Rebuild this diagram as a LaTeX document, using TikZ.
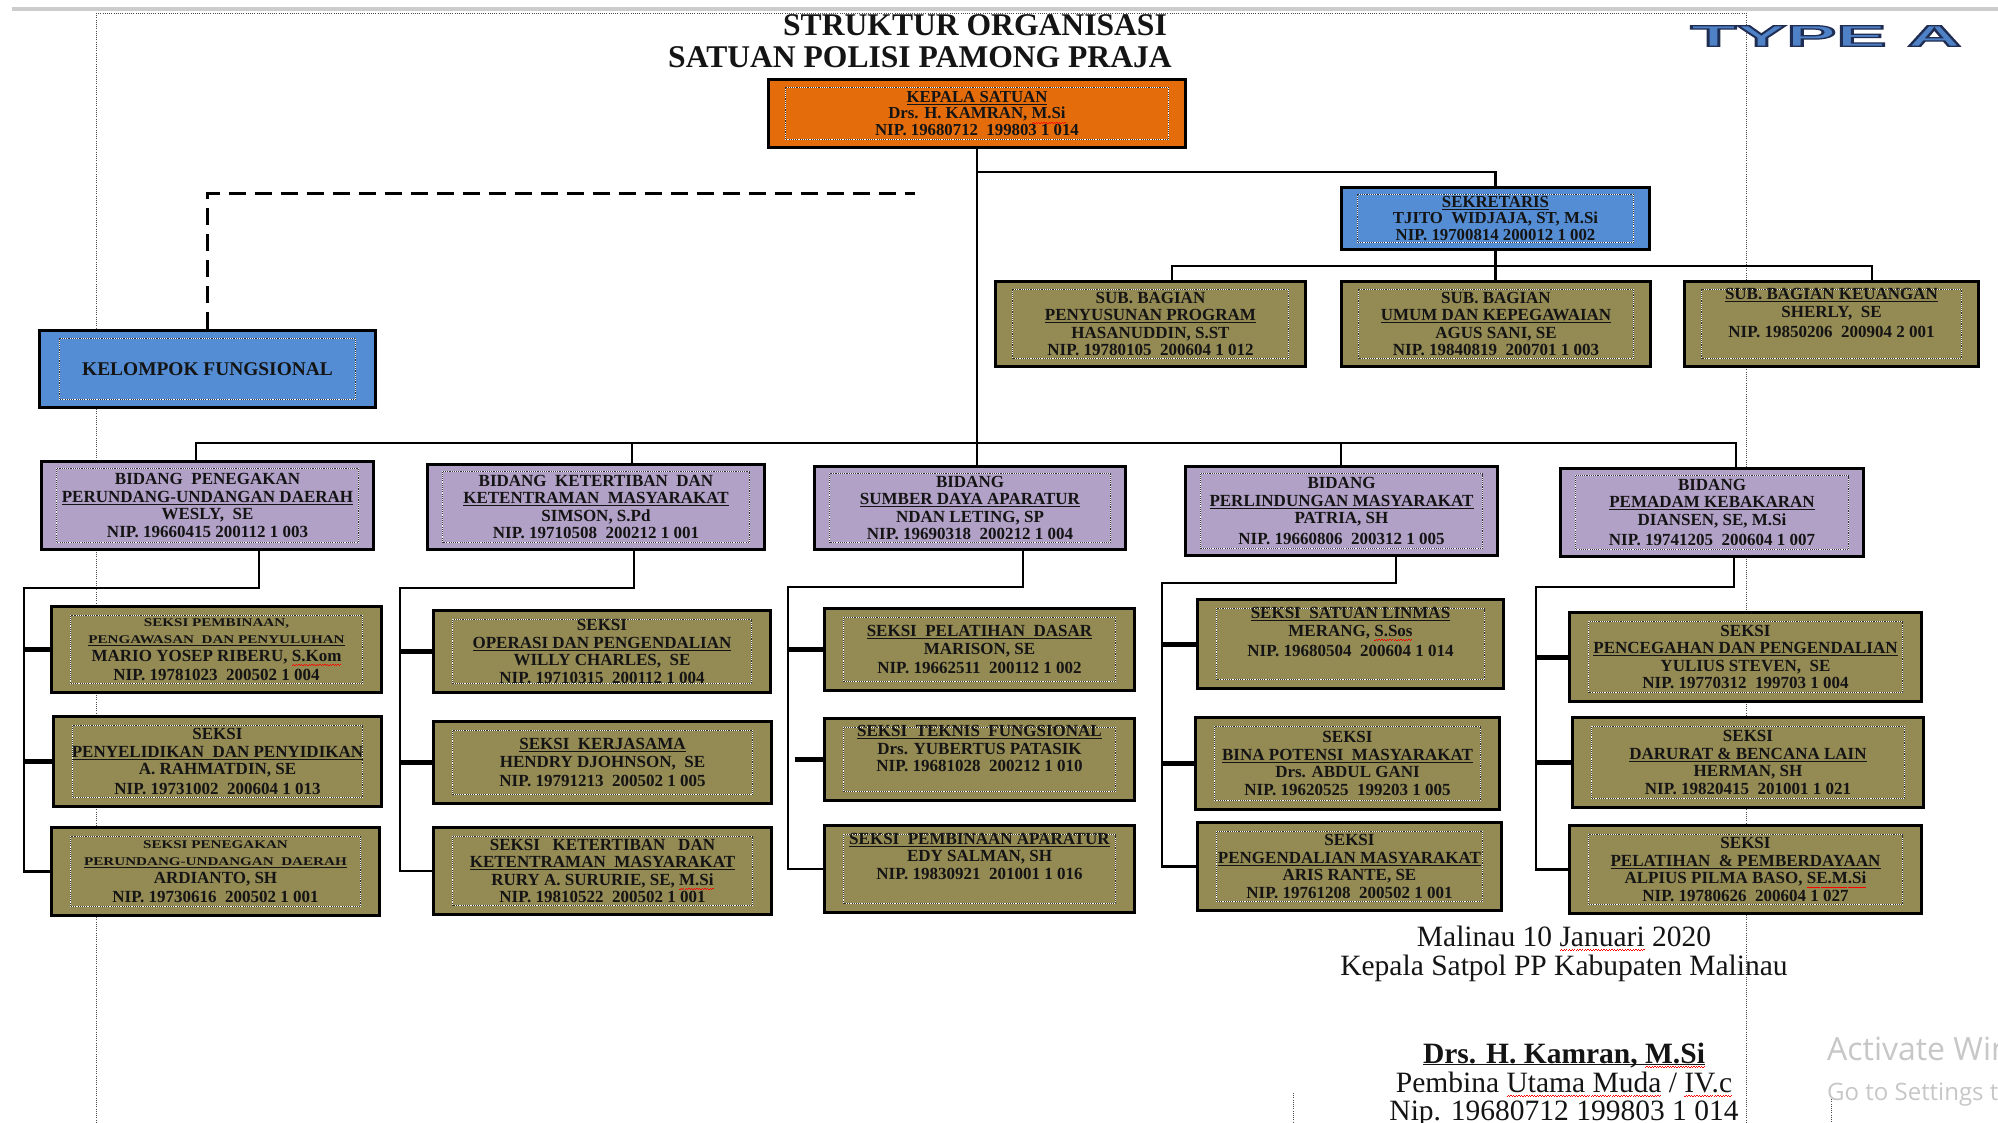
\documentclass[tikz,border=0pt]{standalone}
\usepackage{fontspec}
\setmainfont{Liberation Serif}
\newfontfamily\typeafont{Liberation Sans}
\newfontfamily\wmfont{Open Sans}
\usepackage{graphicx}
\usetikzlibrary{calc}
\definecolor{orangeC}{RGB}{228,108,10}
\definecolor{blueC}{RGB}{84,141,212}
\definecolor{lavC}{RGB}{178,161,199}
\definecolor{oliveC}{RGB}{148,138,84}
\definecolor{txtC}{RGB}{20,20,20}
\definecolor{typeFill}{RGB}{79,129,199}
\newcommand\ul[1]{\leavevmode\begingroup\setbox0=\hbox{#1}\rlap{\rule[-2.4pt]{\wd0}{1.1pt}}\box0\endgroup}
\newcommand\wavepiece{\hbox{\rule[0pt]{1.3pt}{0.9pt}\rule[0.8pt]{1.3pt}{0.9pt}}}
\newcommand\spellw[1]{\leavevmode\begingroup\setbox0=\hbox{#1}\rlap{\raisebox{-4.6pt}{\textcolor{red}{\hbox to \wd0{\xleaders\wavepiece\hfil}}}}\box0\endgroup}
\newcommand\smallln[1]{\scalebox{1.28}[1]{\fontsize{11.8}{12}\selectfont #1}}
\newcommand\outlined[1]{\special{pdf:literal direct 2 Tr 1.2 w 0.12 0.18 0.32 RG}#1\special{pdf:literal direct 0 Tr 0 G}}
\begin{document}
\begin{tikzpicture}[x=1pt,y=-1pt,
  conn/.style={line width=2.6pt, black},
  stub/.style={line width=5pt, black},
  margin/.style={line width=0.9pt, black!70, dash pattern=on 1pt off 1.2pt},
  ix/.store in=\boxix, iy/.store in=\boxiy, ix=17pt, iy=8pt,
  sz/.style 2 args={minimum width=#1pt-3pt, minimum height=#2pt-3pt},
  orgbox/.style={draw=black, line width=3pt, inner sep=0pt, align=center, text=txtC,
    font=\bfseries\fontsize{17}{17.5}\selectfont,
    path picture={
      \draw[white, line width=1.1pt] ([xshift=\boxix,yshift=-\boxiy]path picture bounding box.north west) rectangle ([xshift=-\boxix,yshift=\boxiy]path picture bounding box.south east);
      \draw[black!80, line width=1.1pt, dash pattern=on 1.1pt off 1.1pt] ([xshift=\boxix,yshift=-\boxiy]path picture bounding box.north west) rectangle ([xshift=-\boxix,yshift=\boxiy]path picture bounding box.south east);
    }},
  kepbox/.style={orgbox, fill=orangeC, font=\bfseries\fontsize{16.8}{16.5}\selectfont},
  bluebox/.style={orgbox, fill=blueC, font=\bfseries\fontsize{16.8}{16.5}\selectfont},
  subbox/.style={orgbox, fill=oliveC},
  bidbox/.style={orgbox, fill=lavC, ix=15pt, iy=7pt},
  seksi/.style={orgbox, fill=oliveC, ix=19pt, iy=9pt},
  typeA/.style={inner sep=0pt, font=\typeafont\bfseries\fontsize{30}{30}\selectfont},
  plain/.style={inner sep=0pt, text=txtC},
  sig/.style={plain, anchor=base, font=\fontsize{29.5}{30}\selectfont}
]
\fill[white] (0,0) rectangle (1998,1123);
\useasboundingbox (0,0) rectangle (1998,1123);

% page frame / margins
\draw[gray!40, line width=4pt] (12,9) -- (1998,9);
\draw[margin] (96,13) -- (1746,13);
\draw[margin] (96,13) -- (96,1123);
\draw[margin] (1746,13) -- (1746,1123);
\draw[margin] (1293,1093) -- (1293,1123);
\draw[margin] (1831,1097) -- (1831,1123);

% title
\node[plain, anchor=base, font=\bfseries\fontsize{31.6}{32}\selectfont] (t1) at (975,36) {STRUKTUR ORGANISASI};
\node[plain, anchor=base, font=\bfseries\fontsize{31.6}{32}\selectfont] (t2) at (920,68) {SATUAN POLISI PAMONG PRAJA};

% TYPE A
\node[typeA, text=typeFill] (typea) at (1826,36) {\scalebox{2.5}[1]{\outlined{TYPE A}}};

% boxes
\node[kepbox, sz={420}{71}, ix=17pt, iy=8pt] (kepala) at (977,113.5)
  {\ul{KEPALA SATUAN}\\ Drs. H. KAMRAN, \spellw{M.Si}\\ NIP. 19680712\ \ 199803 1 014};
\node[bluebox, sz={311}{65}, ix=16pt, iy=7pt] (sekr) at (1495.5,218.5)
  {\ul{SEKRETARIS}\\ TJITO\ \ WIDJAJA, ST, M.Si\\ NIP. 19700814 200012 1 002};
\node[orgbox, fill=blueC, sz={339}{80}, ix=20pt, iy=8pt, font=\bfseries\fontsize{19.4}{19}\selectfont] (kelompok) at (207.5,369)
  {KELOMPOK FUNGSIONAL};

\node[subbox, sz={313}{88}] (sb1) at (1150.5,324)
  {SUB. BAGIAN\\ \ul{PENYUSUNAN PROGRAM}\\ HASANUDDIN, S.ST\\ NIP. 19780105\ \ 200604 1 012};
\node[subbox, sz={312}{88}] (sb2) at (1496,324)
  {SUB. BAGIAN\\ \ul{UMUM DAN KEPEGAWAIAN}\\ AGUS SANI, SE\\ NIP. 19840819\ \ 200701 1 003};
\node[subbox, sz={297}{88}] (sb3) at (1831.5,324)
  {\ul{SUB. BAGIAN KEUANGAN}\\ SHERLY,\ \ SE\\[3pt] NIP. 19850206\ \ 200904 2 001\\[4pt]};

\node[bidbox, sz={335}{91}] (b1) at (207.5,505.5)
  {BIDANG\ \ PENEGAKAN\\ \ul{PERUNDANG-UNDANGAN DAERAH}\\ WESLY,\ \ SE\\ NIP. 19660415 200112 1 003};
\node[bidbox, sz={340}{88}] (b2) at (596,507)
  {BIDANG\ \ KETERTIBAN\ \ DAN\\ \ul{KETENTRAMAN\ \ MASYARAKAT}\\ SIMSON, S.Pd\\ NIP. 19710508\ \ 200212 1 001};
\node[bidbox, sz={314}{86}] (b3) at (970,508)
  {BIDANG\\ \ul{SUMBER DAYA APARATUR}\\ NDAN LETING, SP\\ NIP. 19690318\ \ 200212 1 004};
\node[bidbox, sz={315}{92}] (b4) at (1341.5,511)
  {BIDANG\\ \ul{PERLINDUNGAN MASYARAKAT}\\ PATRIA, SH\\[3pt] NIP. 19660806\ \ 200312 1 005};
\node[bidbox, sz={306}{91}] (b5) at (1712,512.5)
  {BIDANG\\ \ul{PEMADAM KEBAKARAN}\\ DIANSEN, SE, M.Si\\[3pt] NIP. 19741205\ \ 200604 1 007};

% seksi column 1
\node[seksi, sz={333}{89}] (s11) at (216.5,649.5)
  {\smallln{SEKSI PEMBINAAN,}\\ \smallln{\ul{PENGAWASAN\ \ DAN PENYULUHAN}}\\ MARIO YOSEP RIBERU, \spellw{S.Kom}\\[2pt] NIP. 19781023\ \ 200502 1 004};
\node[seksi, sz={331}{93}] (s12) at (217.5,761.5)
  {SEKSI\\ \ul{PENYELIDIKAN\ \ DAN PENYIDIKAN}\\ A. RAHMATDIN, SE\\[2pt] NIP. 19731002\ \ 200604 1 013};
\node[seksi, sz={331}{91}] (s13) at (215.5,871.5)
  {\smallln{SEKSI PENEGAKAN}\\ \smallln{\ul{PERUNDANG-UNDANGAN\ \ DAERAH}}\\ ARDIANTO, SH\\[2pt] NIP. 19730616\ \ 200502 1 001};
% column 2
\node[seksi, sz={340}{85}] (s21) at (602,651.5)
  {SEKSI\\ \ul{OPERASI DAN PENGENDALIAN}\\ WILLY CHARLES,\ \ SE\\ NIP. 19710315\ \ 200112 1 004};
\node[seksi, sz={341}{85}] (s22) at (602.5,762.5)
  {\ul{SEKSI\ \ KERJASAMA}\\ HENDRY DJOHNSON,\ \ SE\\[2pt] NIP. 19791213\ \ 200502 1 005};
\node[seksi, sz={341}{90}] (s23) at (602.5,871)
  {SEKSI\ \ \ KETERTIBAN\ \ \ DAN\\ \ul{KETENTRAMAN\ \ MASYARAKAT}\\ RURY A. SURURIE, SE, \spellw{M.Si}\\ NIP. 19810522\ \ 200502 1 001};
% column 3
\node[seksi, sz={313}{85}] (s31) at (979.5,649.5)
  {\ul{SEKSI\ \ PELATIHAN\ \ DASAR}\\ MARISON, SE\\[2pt] NIP. 19662511\ \ 200112 1 002};
\node[seksi, sz={313}{85}] (s32) at (979.5,759.5)
  {\ul{SEKSI\ \ TEKNIS\ \ FUNGSIONAL}\\ Drs. YUBERTUS PATASIK\\ NIP. 19681028\ \ 200212 1 010\\[4pt]};
\node[seksi, sz={313}{90}] (s33) at (979.5,869)
  {\ul{SEKSI\ \ PEMBINAAN APARATUR}\\ EDY SALMAN, SH\\ NIP. 19830921\ \ 201001 1 016\\[8pt]};
% column 4
\node[seksi, sz={309}{92}] (s41) at (1350.5,644)
  {\ul{SEKSI\ \ SATUAN LINMAS}\\ MERANG, \spellw{S.Sos}\\[3pt] NIP. 19680504\ \ 200604 1 014\\[6pt]};
\node[seksi, sz={307}{95}] (s42) at (1347.5,763.5)
  {SEKSI\\ \ul{BINA POTENSI\ \ MASYARAKAT}\\ Drs. ABDUL GANI\\ NIP. 19620525\ \ 199203 1 005};
\node[seksi, sz={307}{91}] (s43) at (1349.5,866.5)
  {SEKSI\\ \ul{PENGENDALIAN MASYARAKAT}\\ ARIS RANTE, SE\\ NIP. 19761208\ \ 200502 1 001};
% column 5
\node[seksi, sz={355}{92}] (s51) at (1745.5,657)
  {SEKSI\\ \ul{PENCEGAHAN DAN PENGENDALIAN}\\ YULIUS STEVEN,\ \ SE\\ NIP. 19770312\ \ 199703 1 004};
\node[seksi, sz={354}{93}] (s52) at (1748,762.5)
  {SEKSI\\ \ul{DARURAT \& BENCANA LAIN}\\ HERMAN, SH\\ NIP. 19820415\ \ 201001 1 021};
\node[seksi, sz={355}{91}] (s53) at (1745.5,869.5)
  {SEKSI\\ \ul{PELATIHAN\ \ \& PEMBERDAYAAN}\\ ALPIUS PILMA BASO, \spellw{SE.M.Si}\\ NIP. 19780626\ \ 200604 1 027};

% connector coordinates
\coordinate (j1) at (977,172);
\coordinate (t1c) at (1172,266);
\coordinate (t3c) at (1872,266);
\coordinate (bl) at (196,443);
\coordinate (br) at (1736,443);
\coordinate (x2) at (632,443);
\coordinate (x4) at (1341,443);
\coordinate (dk) at (915,194);

% main connectors
\draw[conn] (kepala.south) -- (kepala.south |- b3.north);
\draw[conn] (j1) -| (sekr.north);
\draw[conn] (sekr.south) -- (sekr.south |- sb2.north);
\draw[conn] (t1c |- sb1.north) -- (t1c) -- (t3c) -- (t3c |- sb3.north);
\draw[conn] (bl |- b1.north) -- (bl) -- (br) -- (br |- b5.north);
\draw[conn] (x2) -- (x2 |- b2.north);
\draw[conn] (x4) -- (x4 |- b4.north);
\draw[line width=3pt, dash pattern=on 17pt off 9pt] (kelompok.north) |- (dk);

% seksi buses
\coordinate (d1) at (259,588);  \coordinate (k1) at (24,588);
\coordinate (d2) at (634,588);  \coordinate (k2) at (400,588);
\coordinate (d3) at (1023,587); \coordinate (k3) at (788,587);
\coordinate (d4) at (1396,583); \coordinate (k4) at (1162,583);
\coordinate (d5) at (1734,587); \coordinate (k5) at (1536,587);

\draw[conn] (b1.south -| d1) -- (d1) -- (k1) |- (s13.west);
\draw[conn] (b2.south -| d2) -- (d2) -- (k2) |- (s23.west);
\draw[conn] (b3.south -| d3) -- (d3) -- (k3) |- (s33.west);
\draw[conn] (b4.south -| d4) -- (d4) -- (k4) |- (s43.west);
\draw[conn] (b5.south -| d5) -- (d5) -- (k5) |- (s53.west);

\draw[stub] (s11.west -| k1) -- (s11.west);
\draw[stub] (s12.west -| k1) -- (s12.west);
\draw[stub] (s21.west -| k2) -- (s21.west);
\draw[stub] (s22.west -| k2) -- (s22.west);
\draw[stub] (s31.west -| k3) -- (s31.west);
\draw[stub] ([xshift=7pt]s32.west -| k3) -- (s32.west);
\draw[stub] (s41.west -| k4) -- (s41.west);
\draw[stub] (s42.west -| k4) -- (s42.west);
\draw[stub] (s51.west -| k5) -- (s51.west);
\draw[stub] (s52.west -| k5) -- (s52.west);

% signature block
\node[sig] (date) at (1564,946) {Malinau 10 \spellw{Januari} 2020};
\node[sig] (jab) at (1564,975) {Kepala Satpol PP Kabupaten Malinau};
\node[sig, font=\bfseries\fontsize{29.5}{30}\selectfont] (nama) at (1564,1063) {\ul{Drs. H. Kamran, \spellw{M.Si}}};
\node[sig] (pangkat) at (1564,1092) {Pembina \spellw{Utama Muda} / \spellw{IV.c}};
\node[sig] (nip) at (1564,1120) {Nip. 19680712 199803 1 014};

% watermark
\begin{scope}
\clip (0,0) rectangle (1998,1123);
\node[inner sep=0pt, anchor=base west, text=black!22, font=\wmfont\fontsize{32}{32}\selectfont] (wm1) at (1827,1060) {Activate Windows};
\node[inner sep=0pt, anchor=base west, text=black!22, font=\wmfont\fontsize{24}{24}\selectfont] (wm2) at (1827,1100) {Go to Settings to activate Windows.};
\end{scope}
\end{tikzpicture}
\end{document}
